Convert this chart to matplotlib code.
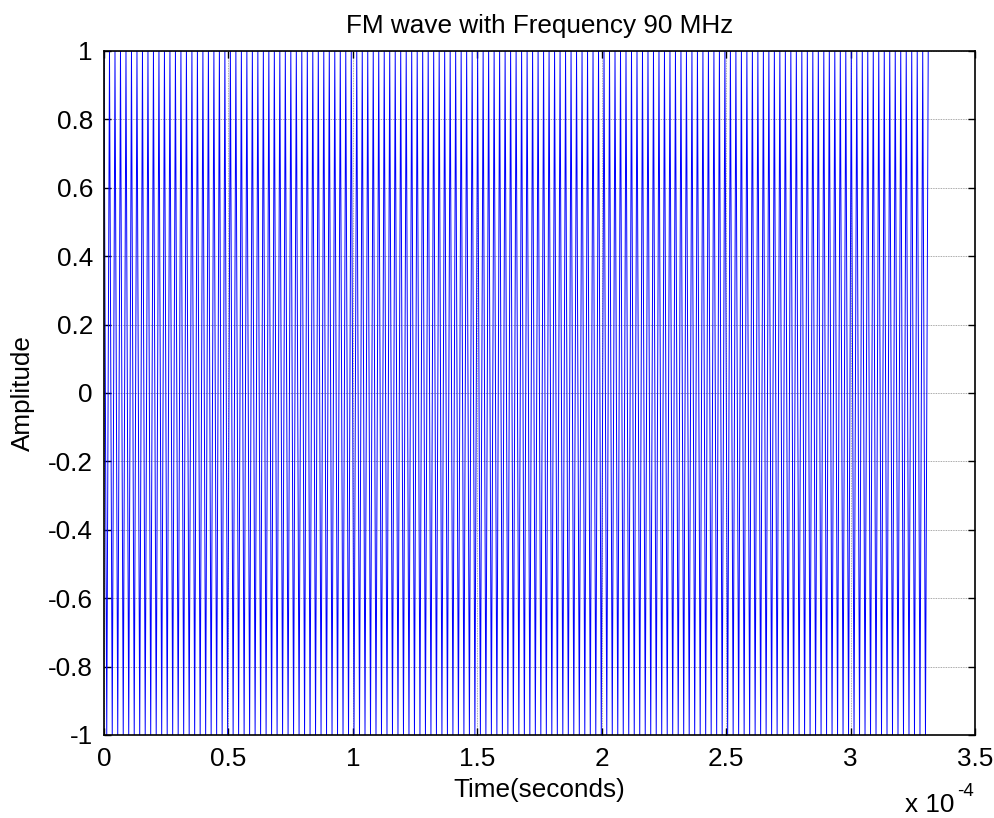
import numpy as np
import matplotlib
matplotlib.use("Agg")
import matplotlib.pyplot as plt

# sampled FM wave (aliased samples swing between the rails)
t_end = 3.312e-4
amplitude = [
    1, -1, 1, -1, 1, -1, 1, -1, 1, -1, 1, -1, 1, -1, 1, -1, 1, -1, 1, -1,
    1, -1, 1, -1, 1, -1, 1, -1, 1, -1, 1, -1, 1, -1, 1, -1, 1, -1, 1, -1,
    1, -1, 1, -1, 1, -1, 1, -1, 1, -1, 1, -1, 1, -1, 1, -1, 1, -1, 1, -1,
    1, -1, 1, -1, 1, -1, 1, -1, 1, -1, 1, -1, 1, -1, 1, -1, 1, -1, 1, -1,
    1, -1, 1, -1, 1, -1, 1, -1, 1, -1, 1, -1, 1, -1, 1, -1, 1, -1, 1, -1,
    1, -1, 1, -1, 1, -1, 1, -1, 1, -1, 1, -1, 1, -1, 1, -1, 1, -1, 1, -1,
    1, -1, 1, -1, 1, -1, 1, -1, 1, -1, 1, -1, 1, -1, 1, -1, 1, -1, 1, -1,
    1, -1, 1, -1, 1, -1, 1, -1, 1, -1, 1, -1, 1, -1, 1, -1, 1, -1, 1, -1,
    1, -1, 1, -1, 1, -1, 1, -1, 1, -1, 1, -1, 1, -1, 1, -1, 1, -1, 1, -1,
    1, -1, 1, -1, 1, -1, 1, -1, 1, -1, 1, -1, 1, -1, 1, -1, 1, -1, 1, -1,
    1, -1, 1, -1, 1, -1, 1, -1, 1, -1, 1, -1, 1, -1, 1, -1, 1, -1, 1, -1,
    1, -1, 1, -1, 1, -1, 1, -1, 1, -1, 1, -1, 1, -1, 1, -1, 1, -1, 1, -1,
    1, -1, 1, -1, 1, -1, 1, -1, 1, -1, 1, -1, 1, -1, 1, -1, 1, -1, 1, -1,
    1, -1, 1, -1, 1, -1, 1, -1, 1, -1, 1, -1, 1, -1, 1, -1, 1, -1, 1, -1,
    1, -1, 1, -1, 1, -1, 1, -1, 1, -1, 1, -1, 1, -1, 1, -1, 1, -1, 1, -1,
    1,
]

x_ticks = [0, 0.5e-4, 1e-4, 1.5e-4, 2e-4, 2.5e-4, 3e-4, 3.5e-4]
x_labels = ["0", "0.5", "1", "1.5", "2", "2.5", "3", "3.5"]
y_ticks = [-1, -0.8, -0.6, -0.4, -0.2, 0, 0.2, 0.4, 0.6, 0.8, 1]
y_labels = ["-1", "-0.8", "-0.6", "-0.4", "-0.2", "0", "0.2", "0.4", "0.6", "0.8", "1"]

plt.rcParams["font.family"] = ["Liberation Sans", "DejaVu Sans"]
fs = 18.8

fig = plt.figure(figsize=(9.94, 8.18), dpi=100)
ax = fig.add_axes([104 / 994, 83 / 818, 871 / 994, 684 / 818])

t = np.linspace(0, t_end, len(amplitude))
ax.plot(t, amplitude, color=(0, 0, 1), lw=0.7)

ax.set_xlim(0, 3.5e-4)
ax.set_ylim(-1, 1)
ax.set_xticks(x_ticks)
ax.set_xticklabels(x_labels)
ax.set_yticks(y_ticks)
ax.set_yticklabels(y_labels)
ax.tick_params(direction="in", length=5, width=1, top=True, right=True,
               labelsize=fs, pad=8, colors="black")
ax.tick_params(axis="x", pad=9)
ax.grid(True, color="0.55", linestyle=(0, (1, 1)), linewidth=0.6)
for s in ax.spines.values():
    s.set_linewidth(1.2)

ax.set_title("FM wave with Frequency 90 MHz", fontsize=fs, pad=13)
ax.set_xlabel("Time(seconds)", fontsize=fs, labelpad=5)
ax.set_ylabel("Amplitude", fontsize=fs, labelpad=9)

# MATLAB style exponent under the right end of the x axis
fig.text(905 / 994, 1 - 812 / 818, "x 10", fontsize=fs, va="baseline", ha="left")
fig.text(957 / 994, 1 - 796 / 818, "-4", fontsize=fs * 0.72, va="baseline", ha="left")

fig.savefig("out.png", dpi=100)
